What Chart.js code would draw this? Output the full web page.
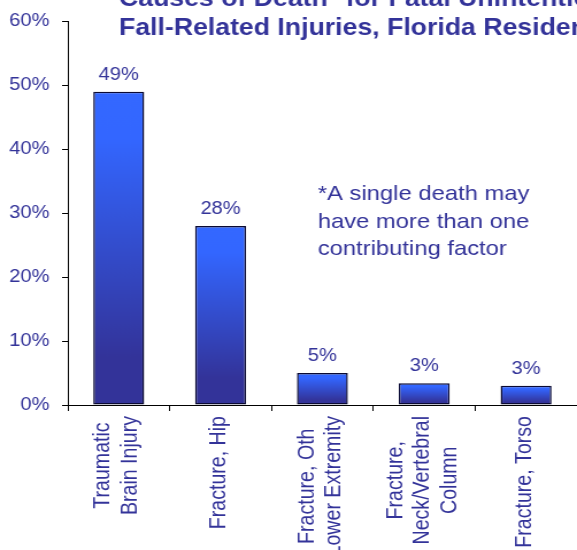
<!DOCTYPE html>
<html>
<head>
<meta charset="utf-8">
<script src="https://cdn.jsdelivr.net/npm/chart.js@4.4.1/dist/chart.umd.min.js"></script>
<style>
  html, body { margin: 0; padding: 0; background: #fff; overflow: hidden; }
  #wrap { width: 577px; height: 550px; overflow: hidden; }
  /* the original slide is stretched sideways, so the canvas is too */
  #chart { transform: scaleX(1.1494); transform-origin: 0 0; }
</style>
</head>
<body>
<div id="wrap"><canvas id="chart" width="502" height="550"></canvas></div>
<script>
// chart data
const categories = [
  ['Traumatic', 'Brain Injury'],
  ['Fracture, Hip'],
  ['Fracture, Oth', 'Lower Extremity'],
  ['Fracture,', 'Neck/Vertebral', 'Column'],
  ['Fracture, Torso']
];
const shares = [49, 28, 5, 3.4, 3.0];
const valueLabels = ['49%', '28%', '5%', '3%', '3%'];
const yMin = 0;
const yMax = 60;
const yStep = 10;
const titleLines = ['Causes of Death* for Fatal Unintentional', 'Fall-Related Injuries, Florida Residents'];
const noteLines = ['*A single death may', 'have more than one', 'contributing factor'];

const TEXT = '#333399';
const FONT = "'Liberation Sans', Arial, sans-serif";

Chart.defaults.font.family = FONT;
Chart.defaults.color = TEXT;

// each bar gets its own gradient from bright blue at the top to navy at the base
function barGradient(ctx) {
  const chart = ctx.chart;
  if (!chart.chartArea || ctx.type !== 'data') return '#3366ff';
  const y = chart.scales.y;
  const top = y.getPixelForValue(ctx.parsed.y);
  const base = y.getPixelForValue(0);
  const g = chart.ctx.createLinearGradient(0, top, 0, base);
  g.addColorStop(0, '#3468ff');
  g.addColorStop(0.15, '#3366ff');
  g.addColorStop(0.85, '#333399');
  g.addColorStop(1, '#333399');
  return g;
}

// value labels, rotated category labels, title and footnote
const textPlugin = {
  id: 'texts',
  afterDraw(chart) {
    const c = chart.ctx;
    c.save();
    c.fillStyle = TEXT;

    // values above bars
    c.font = '17.5px ' + FONT;
    c.textAlign = 'center';
    c.textBaseline = 'alphabetic';
    chart.getDatasetMeta(0).data.forEach((bar, i) => {
      c.fillText(valueLabels[i], bar.x, bar.y - 12);
    });

    // category labels, rotated, lines centred in their block
    const xs = chart.scales.x;
    c.font = '19.6px ' + FONT;
    c.textBaseline = 'middle';
    categories.forEach((lines, i) => {
      const cx = xs.getPixelForValue(i) - 1.5;
      const maxLen = Math.max(...lines.map(l => c.measureText(l).width));
      const cy = xs.top + 11 + maxLen / 2;
      lines.forEach((line, j) => {
        const lx = cx + (j - (lines.length - 1) / 2) * 23.5;
        c.save();
        c.translate(lx, cy);
        c.rotate(-Math.PI / 2);
        c.fillText(line, 0, 0);
        c.restore();
      });
    });

    // title (runs off the top and right like the original)
    c.font = 'bold 23.2px ' + FONT;
    c.textAlign = 'left';
    c.textBaseline = 'alphabetic';
    c.fillText(titleLines[0], 103.5, 6);
    c.fillText(titleLines[1], 103.5, 35);

    // footnote
    c.font = '20.7px ' + FONT;
    noteLines.forEach((line, i) => {
      c.fillText(line, 276.5, 200 + i * 27.5);
    });

    c.restore();
  }
};

new Chart(document.getElementById('chart'), {
  type: 'bar',
  data: {
    labels: categories,
    datasets: [{
      data: shares,
      backgroundColor: barGradient,
      borderColor: '#0a0a33',
      borderWidth: 1.5,
      borderSkipped: false,
      barPercentage: 0.5,
      categoryPercentage: 1.0
    }]
  },
  options: {
    responsive: false,
    animation: false,
    devicePixelRatio: 1,
    layout: { padding: { top: 20, right: 0, bottom: 0, left: 0 } },
    plugins: {
      legend: { display: false },
      tooltip: { enabled: false },
      title: { display: false }
    },
    scales: {
      x: {
        ticks: { display: false },
        grid: {
          display: true,
          offset: true,
          drawOnChartArea: false,
          drawTicks: true,
          tickLength: 6,
          color: '#000',
          lineWidth: 1
        },
        border: { display: true, color: '#000', width: 1 },
        afterFit: (scale) => { scale.height = 145; }
      },
      y: {
        min: yMin,
        max: yMax,
        ticks: {
          stepSize: yStep,
          color: TEXT,
          font: { size: 17.5 },
          padding: 11,
          callback: (v) => v + '%'
        },
        grid: {
          display: true,
          drawOnChartArea: false,
          drawTicks: true,
          tickLength: 5,
          color: '#000',
          lineWidth: 1
        },
        border: { display: true, color: '#000', width: 1 },
        afterFit: (scale) => { scale.width = 59; }
      }
    }
  },
  plugins: [textPlugin]
});
</script>
</body>
</html>
